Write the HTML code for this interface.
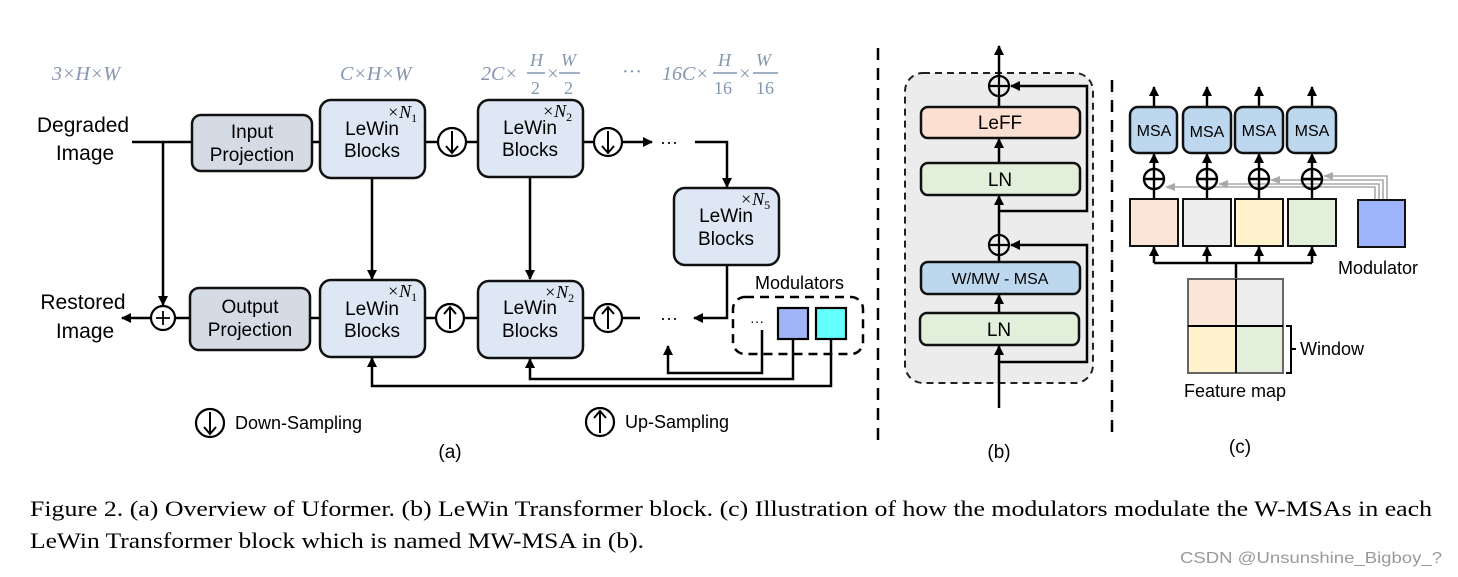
<!DOCTYPE html>
<html><head><meta charset="utf-8"><style>
html,body{margin:0;padding:0;background:#fff;}
svg{display:block;}
.s{font-family:"Liberation Sans",sans-serif;}
.m{font-family:"Liberation Serif",serif;fill:#8496b0;}
</style></head><body>
<svg width="1458" height="577" viewBox="0 0 1458 577" xmlns="http://www.w3.org/2000/svg">
<defs>
<marker id="a" markerWidth="10" markerHeight="10" refX="9" refY="5" orient="auto" markerUnits="userSpaceOnUse"><path d="M0,0 L10,5 L0,10 z" fill="#000"/></marker>
<marker id="g" markerWidth="10" markerHeight="10" refX="9" refY="5" orient="auto" markerUnits="userSpaceOnUse"><path d="M0,1 L10,5 L0,9 z" fill="#aaa"/></marker>
</defs>
<g class="m" font-size="20" font-style="italic">
<text x="52" y="80">3×H×W</text>
<text x="340" y="80">C×H×W</text>
<text x="481" y="80">2C×</text>
<text x="530" y="66" font-size="18">H</text><line x1="527" y1="73" x2="545" y2="73" stroke="#8496b0" stroke-width="1.5"/><text x="531" y="94" font-size="18" font-style="normal">2</text>
<text x="546" y="80">×</text>
<text x="561" y="66" font-size="18">W</text><line x1="559" y1="73" x2="580" y2="73" stroke="#8496b0" stroke-width="1.5"/><text x="564" y="94" font-size="18" font-style="normal">2</text>
<text x="622" y="78" font-style="normal">···</text>
<text x="662" y="80">16C×</text>
<text x="718" y="66" font-size="18">H</text><line x1="713" y1="73" x2="737" y2="73" stroke="#8496b0" stroke-width="1.5"/><text x="714" y="94" font-size="18" font-style="normal">16</text>
<text x="738" y="80">×</text>
<text x="756" y="66" font-size="18">W</text><line x1="753" y1="73" x2="778" y2="73" stroke="#8496b0" stroke-width="1.5"/><text x="756" y="94" font-size="18" font-style="normal">16</text>
</g>
<g class="s" font-size="21" text-anchor="middle">
<text x="83" y="132">Degraded</text><text x="85" y="160">Image</text>
<text x="83" y="309">Restored</text><text x="85" y="338">Image</text>
</g>
<g stroke="#000" stroke-width="2.5" fill="none">
<line x1="132" y1="142" x2="192" y2="142"/>
<line x1="163" y1="142" x2="163" y2="305" marker-end="url(#a)"/>
<line x1="151" y1="318" x2="122" y2="318" marker-end="url(#a)"/>
<line x1="175" y1="318" x2="190" y2="318"/>
<line x1="312" y1="142" x2="320" y2="142"/>
<line x1="425" y1="142" x2="437" y2="142"/><line x1="467" y1="142" x2="478" y2="142"/>
<line x1="583" y1="142" x2="593" y2="142"/><line x1="623" y1="142" x2="652" y2="142" marker-end="url(#a)"/>
<polyline points="695,142 727,142 727,187" marker-end="url(#a)"/>
<line x1="310" y1="318" x2="320" y2="318"/>
<line x1="425" y1="318" x2="435" y2="318"/><line x1="465" y1="318" x2="478" y2="318"/>
<line x1="583" y1="318" x2="593" y2="318"/><line x1="623" y1="318" x2="640" y2="318"/>
<polyline points="727,265 727,318 694,318" marker-end="url(#a)"/>
<line x1="372" y1="178" x2="372" y2="279" marker-end="url(#a)"/>
<line x1="530" y1="177" x2="530" y2="279" marker-end="url(#a)"/>
<polyline points="762,330 762,373 668,373 668,346" marker-end="url(#a)"/>
<polyline points="793,339 793,379 530,379 530,359" marker-end="url(#a)"/>
<polyline points="831,339 831,386 372,386 372,358" marker-end="url(#a)"/>
</g>
<circle cx="163" cy="318" r="12" fill="#fff" stroke="#000" stroke-width="2.2"/>
<path d="M156,318h14M163,311v14" stroke="#000" stroke-width="1.8"/>
<g stroke="#111" stroke-width="2.5">
<rect x="192" y="115" width="120" height="56" rx="9" fill="#d5dbe5"/>
<rect x="190" y="288" width="120" height="62" rx="9" fill="#d5dbe5"/>
<rect x="320" y="100" width="105" height="78" rx="11" fill="#dde8f4"/>
<rect x="478" y="100" width="105" height="77" rx="11" fill="#dde8f4"/>
<rect x="674" y="188" width="105" height="77" rx="11" fill="#dde8f4"/>
<rect x="320" y="280" width="105" height="77" rx="11" fill="#dde8f4"/>
<rect x="478" y="281" width="105" height="77" rx="11" fill="#dde8f4"/>
</g>
<g class="s" font-size="19" text-anchor="middle">
<text x="252" y="138">Input</text><text x="252" y="161">Projection</text>
<text x="250" y="313">Output</text><text x="250" y="336">Projection</text>
<text x="372" y="135">LeWin</text><text x="372" y="157">Blocks</text>
<text x="530" y="134">LeWin</text><text x="530" y="156">Blocks</text>
<text x="726" y="222">LeWin</text><text x="726" y="245">Blocks</text>
<text x="372" y="315">LeWin</text><text x="372" y="337">Blocks</text>
<text x="530" y="314">LeWin</text><text x="530" y="337">Blocks</text>
</g>
<g font-family="Liberation Serif,serif" font-size="18" font-style="italic">
<text x="387" y="118">×N<tspan font-size="12" font-style="normal" dy="4">1</tspan></text>
<text x="542" y="117">×N<tspan font-size="12" font-style="normal" dy="4">2</tspan></text>
<text x="740" y="205">×N<tspan font-size="12" font-style="normal" dy="4">5</tspan></text>
<text x="387" y="297">×N<tspan font-size="12" font-style="normal" dy="4">1</tspan></text>
<text x="544" y="298">×N<tspan font-size="12" font-style="normal" dy="4">2</tspan></text>
</g>
<g class="s" font-size="18"><text x="660" y="148">···</text><text x="660" y="324">···</text></g>
<g stroke="#000" stroke-width="2.2" fill="#fff">
<circle cx="452" cy="142" r="14"/><circle cx="608" cy="142" r="14"/>
<circle cx="450" cy="318" r="14"/><circle cx="608" cy="318" r="14"/>
<circle cx="210" cy="423" r="14"/><circle cx="600" cy="422" r="14"/>
</g>
<g stroke="#000" stroke-width="2" fill="none">
<path d="M452,131v21M446,146l6,7l6,-7"/><path d="M608,131v21M602,146l6,7l6,-7"/>
<path d="M450,329v-21M444,314l6,-7l6,7"/><path d="M608,329v-21M602,314l6,-7l6,7"/>
<path d="M210,412v21M204,427l6,7l6,-7"/><path d="M600,433v-21M594,418l6,-7l6,7"/>
</g>
<g class="s" font-size="18"><text x="235" y="429">Down-Sampling</text><text x="625" y="428">Up-Sampling</text>
<text x="755" y="289">Modulators</text>
<text x="450" y="458" text-anchor="middle" font-size="19">(a)</text>
<text x="999" y="458" text-anchor="middle" font-size="19">(b)</text>
<text x="1240" y="453" text-anchor="middle" font-size="19">(c)</text>
</g>
<rect x="733" y="297" width="130" height="57" rx="12" fill="none" stroke="#000" stroke-width="2.5" stroke-dasharray="9,6"/>
<text x="750" y="326" class="s" font-size="14">···</text>
<rect x="778" y="308" width="30" height="31" fill="#a0b4f8" stroke="#000" stroke-width="2.2"/>
<rect x="816" y="308" width="30" height="31" fill="#66ffff" stroke="#000" stroke-width="2.2"/>
<line x1="878" y1="48" x2="878" y2="440" stroke="#000" stroke-width="2.5" stroke-dasharray="12,8"/>
<line x1="1112" y1="80" x2="1112" y2="440" stroke="#000" stroke-width="2.5" stroke-dasharray="12,8"/>
<rect x="905" y="73" width="188" height="310" rx="18" fill="#ececec" stroke="#222" stroke-width="2" stroke-dasharray="7,5"/>
<g stroke="#000" stroke-width="2.5" fill="none">
<line x1="999" y1="408" x2="999" y2="346" marker-end="url(#a)"/>
<line x1="999" y1="313" x2="999" y2="295" marker-end="url(#a)"/>
<line x1="999" y1="262" x2="999" y2="256"/>
<line x1="999" y1="234" x2="999" y2="196" marker-end="url(#a)"/>
<line x1="999" y1="163" x2="999" y2="139" marker-end="url(#a)"/>
<line x1="999" y1="107" x2="999" y2="97"/>
<line x1="999" y1="75" x2="999" y2="46" marker-end="url(#a)"/>
<polyline points="999,362 1087,362 1087,245 1011,245" marker-end="url(#a)"/>
<polyline points="999,211 1087,211 1087,86 1011,86" marker-end="url(#a)"/>
</g>
<g stroke="#000" stroke-width="2.2" fill="none">
<circle cx="999" cy="86" r="10"/><path d="M989,86h20M999,76v20"/>
<circle cx="999" cy="245" r="10"/><path d="M989,245h20M999,235v20"/>
</g>
<g stroke="#111" stroke-width="2.5">
<rect x="921" y="107" width="159" height="31" rx="7" fill="#fbe0d2"/>
<rect x="921" y="163" width="159" height="32" rx="7" fill="#e2efda"/>
<rect x="921" y="262" width="159" height="32" rx="7" fill="#bdd7ee"/>
<rect x="920" y="313" width="159" height="32" rx="7" fill="#e2efda"/>
</g>
<g class="s" font-size="19" text-anchor="middle">
<text x="1000" y="129">LeFF</text><text x="1000" y="186">LN</text>
<text x="1000" y="284" font-size="16">W/MW - MSA</text><text x="999" y="336">LN</text>
</g>
<g stroke="#aaa" stroke-width="1.6" fill="none">
<polyline points="1375,200 1375,187 1166,187" marker-end="url(#g)"/>
<polyline points="1379,200 1379,184 1219,184" marker-end="url(#g)"/>
<polyline points="1383,200 1383,180 1271,180" marker-end="url(#g)"/>
<polyline points="1387,200 1387,176 1324,176" marker-end="url(#g)"/>
</g>
<g stroke="#000" stroke-width="2.5" fill="none">
<line x1="1236" y1="279" x2="1236" y2="263"/>
<line x1="1154" y1="263" x2="1312" y2="263"/>
<line x1="1154" y1="263" x2="1154" y2="247" marker-end="url(#a)"/>
<line x1="1207" y1="263" x2="1207" y2="247" marker-end="url(#a)"/>
<line x1="1259" y1="263" x2="1259" y2="247" marker-end="url(#a)"/>
<line x1="1312" y1="263" x2="1312" y2="247" marker-end="url(#a)"/>
</g>
<g stroke="#000" stroke-width="2.4" fill="none">
<g id="col"><line x1="1154" y1="199" x2="1154" y2="190"/><line x1="1154" y1="168" x2="1154" y2="154" marker-end="url(#a)"/><line x1="1154" y1="107" x2="1154" y2="87" marker-end="url(#a)"/><circle cx="1154" cy="179" r="10"/><path d="M1144,179h20M1154,169v20"/></g>
<use href="#col" x="53"/><use href="#col" x="105"/><use href="#col" x="158"/>
</g>
<g stroke="#111" stroke-width="2.5">
<rect x="1130" y="107" width="47" height="46" rx="8" fill="#bdd7ee"/>
<rect x="1183" y="107" width="48" height="46" rx="8" fill="#bdd7ee"/>
<rect x="1235" y="107" width="48" height="46" rx="8" fill="#bdd7ee"/>
<rect x="1287" y="107" width="49" height="46" rx="8" fill="#bdd7ee"/>
</g>
<g class="s" font-size="16" text-anchor="middle">
<text x="1154" y="136">MSA</text><text x="1207" y="137">MSA</text><text x="1259" y="136">MSA</text><text x="1312" y="136">MSA</text>
</g>
<g stroke="#111" stroke-width="2">
<rect x="1130" y="199" width="48" height="47" fill="#fbe5d6"/>
<rect x="1183" y="199" width="48" height="47" fill="#ededed"/>
<rect x="1235" y="199" width="48" height="47" fill="#fff2cc"/>
<rect x="1288" y="199" width="48" height="47" fill="#e2efda"/>
<rect x="1358" y="200" width="47" height="47" fill="#9db4fa"/>
<rect x="1188" y="279" width="48" height="47" fill="#fbe5d6" stroke="#666"/>
<rect x="1236" y="279" width="47" height="47" fill="#ededed" stroke="#666"/>
<rect x="1188" y="326" width="48" height="47" fill="#fff2cc" stroke="#666"/>
<rect x="1236" y="326" width="47" height="47" fill="#e2efda" stroke="#666"/>
</g>
<line x1="1236" y1="279" x2="1236" y2="373" stroke="#000" stroke-width="2"/>
<line x1="1188" y1="326" x2="1283" y2="326" stroke="#000" stroke-width="2"/>
<path d="M1286,326h5v47h-5M1291,349h5" stroke="#000" stroke-width="2" fill="none"/>
<g class="s" font-size="18">
<text x="1338" y="274">Modulator</text>
<text x="1300" y="355">Window</text>
<text x="1235" y="397" text-anchor="middle">Feature map</text>
</g>
<g font-family="Liberation Serif,serif" font-size="22" fill="#000">
<text x="30" y="516" textLength="1402" lengthAdjust="spacingAndGlyphs">Figure 2. (a) Overview of Uformer. (b) LeWin Transformer block. (c) Illustration of how the modulators modulate the W-MSAs in each</text>
<text x="30" y="548" textLength="614" lengthAdjust="spacingAndGlyphs">LeWin Transformer block which is named MW-MSA in (b).</text>
</g>
<text x="1180" y="563" class="s" font-size="16" fill="#999" textLength="262" lengthAdjust="spacingAndGlyphs">CSDN @Unsunshine_Bigboy_?</text>
</svg>
</body></html>
